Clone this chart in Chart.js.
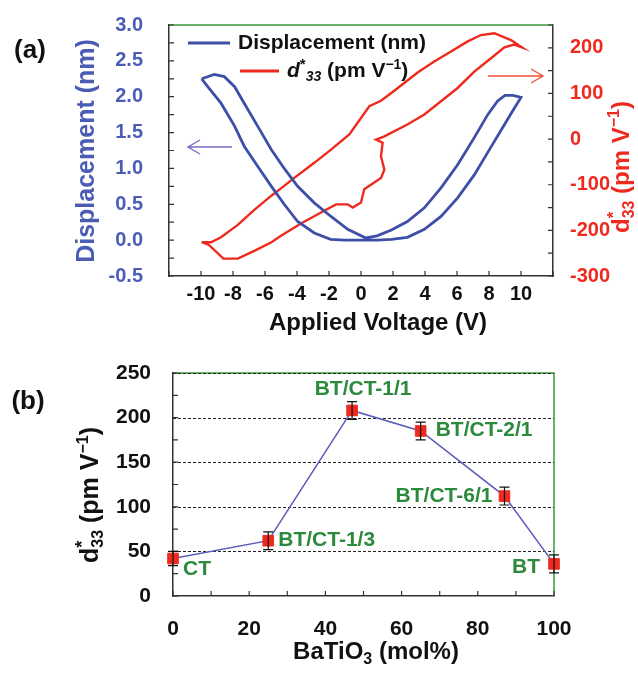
<!DOCTYPE html>
<html>
<head>
<meta charset="utf-8">
<script src="https://cdn.jsdelivr.net/npm/chart.js@4.4.1/dist/chart.umd.min.js"></script>
<style>
  body { margin: 0; background: #fff; width: 638px; height: 673px; overflow: hidden; position: relative; }
  canvas { position: absolute; left: 0; }
  #chartA { top: 0; }
  #chartB { top: 345px; }
</style>
</head>
<body>
<canvas id="chartA" width="638" height="345"></canvas>
<canvas id="chartB" width="638" height="328"></canvas>
<script>
const FONT = "'Liberation Sans', Arial, sans-serif";
const BLUE = "#3e4fa8";
const BLUE_TXT = "#4b5cb4";
const RED = "#ee2a1e";
const GREEN = "#2b8a3c";

// (a) displacement loop, in sweep order
const dispVolt = [-9.96, -9.58, -8.75, -7.9, -7.3, -6.46, -5.6, -4.8, -3.96, -2.92, -1.9, -1.0, 0.2, 1.0, 1.9, 2.9, 3.96, 5.0, 6.04, 7.08, 8.1, 8.96, 9.58, 10.0,
  9.5, 9.0, 8.54, 7.92, 7.08, 6.04, 5.0, 3.96, 2.9, 1.9, 1.0, 0.3, -0.83, -1.875, -2.92, -3.96, -4.8, -5.6, -6.46, -7.3, -7.9, -8.54, -9.17, -9.96];
const dispNm = [2.25, 2.14, 1.91, 1.59, 1.31, 1.03, 0.75, 0.50, 0.26, 0.10, 0.01, 0, 0, 0, 0.01, 0.04, 0.15, 0.33, 0.59, 0.91, 1.29, 1.61, 1.84, 1.99,
  2.02, 2.02, 1.94, 1.75, 1.43, 1.05, 0.73, 0.45, 0.26, 0.14, 0.06, 0.03, 0.15, 0.33, 0.52, 0.75, 1.0, 1.26, 1.59, 1.91, 2.14, 2.28, 2.31, 2.25];

// (a) d*33 loop, in sweep order
const d33Volt = [-9.96, -9.5, -8.6, -7.7, -6.67, -5.6, -5, -3.75, -2.5, -1.56, -0.83, -0.52, 0, 0.2, 1.25, 1.46, 1.25, 1.35, 0.94, 1.46, 2.9, 3.96, 5, 6.04, 7.08, 8.125, 8.96, 9.58, 10.05,
  9.375, 8.33, 7.5, 6.67, 5.625, 4.58, 3.54, 2.08, 1.25, 0.52, -0.73, -1.875, -2.92, -4.17, -5, -5.6, -6.67, -7.7, -8.75, -9.375, -9.96];
const d33Val = [-226, -232, -262, -262, -245, -226, -212, -185, -161, -143, -143, -150, -139, -110, -85, -67, -38, -8, -1, 6, 32, 54, 83, 112, 148, 177, 201, 207, 201,
  217, 232, 228, 214, 192, 170, 146, 106, 84, 72, 10, -23, -52, -85, -108, -124, -155, -188, -215, -226, -226];

// (b) d*33 vs composition
const batio3 = [0, 25, 47, 65, 87, 100];
const d33b = [42, 62, 208, 185, 112, 36];
const d33bErr = [8, 10, 10, 10, 10, 10];
const sampleNames = ["CT", "BT/CT-1/3", "BT/CT-1/1", "BT/CT-2/1", "BT/CT-6/1", "BT"];
// label placement next to each point: dx, dy, align
const nameOffsets = [[10, 11, "left"], [10, 0, "left"], [11, -21, "center"], [15, -1, "left"], [-12, 0, "right"], [-14, 3, "right"]];

const isMult = (v, step) => Math.abs(v / step - Math.round(v / step)) < 1e-6;

function richText(ctx, parts, x, y, size, color, align, angle) {
  ctx.save();
  ctx.translate(x, y);
  if (angle) ctx.rotate(angle);
  ctx.fillStyle = color;
  ctx.textBaseline = "middle";
  ctx.textAlign = "left";
  const fontOf = p => (p.it ? "italic " : "") + "bold " + Math.round(size * (p.sc || 1)) + "px " + FONT;
  let w = 0;
  parts.forEach(p => { ctx.font = fontOf(p); if (!p.stay) w += ctx.measureText(p.t).width; });
  let cx = align === "center" ? -w / 2 : align === "right" ? -w : 0;
  parts.forEach(p => {
    ctx.font = fontOf(p);
    ctx.fillText(p.t, cx, (p.dy || 0) * size);
    if (!p.stay) cx += ctx.measureText(p.t).width;
  });
  ctx.restore();
}

const d33Parts = (italic) => [
  { t: "d", it: italic },
  { t: "*", sc: 0.7, dy: -0.3, stay: !italic },
  { t: "33", it: italic, sc: 0.65, dy: 0.3 },
  { t: " (pm V" },
  { t: "\u22121", sc: 0.65, dy: -0.3 },
  { t: ")" }
];

function tickMarks(ctx, scale, side, len) {
  ctx.save();
  ctx.strokeStyle = "#333";
  ctx.lineWidth = 1.2;
  ctx.beginPath();
  scale.ticks.forEach(t => {
    const p = scale.getPixelForValue(t.value);
    if (side === "left") { ctx.moveTo(scale.right, p); ctx.lineTo(scale.right + len, p); }
    if (side === "right") { ctx.moveTo(scale.left, p); ctx.lineTo(scale.left - len, p); }
    if (side === "bottom") { ctx.moveTo(p, scale.top); ctx.lineTo(p, scale.top - len); }
  });
  ctx.stroke();
  ctx.restore();
}

function arrow(ctx, x1, x2, y, color, dir) {
  ctx.save();
  ctx.strokeStyle = color;
  ctx.lineWidth = 1.4;
  ctx.beginPath();
  ctx.moveTo(x1, y); ctx.lineTo(x2, y);
  const tip = dir < 0 ? x1 : x2;
  ctx.moveTo(tip - dir * 12, y - 7); ctx.lineTo(tip, y); ctx.lineTo(tip - dir * 12, y + 7);
  ctx.stroke();
  ctx.restore();
}

const tickFont = size => ({ family: FONT, size: size, weight: "bold" });
const noGrid = { display: false, drawTicks: false, tickLength: 0 };

// ---------- chart (a) ----------
const framePluginA = {
  id: "frameA",
  beforeDatasetsDraw(chart) {
    const ctx = chart.ctx, a = chart.chartArea;
    ctx.save();
    ctx.strokeStyle = "#3a9a3a";
    ctx.lineWidth = 1.5;
    ctx.beginPath(); ctx.moveTo(a.left, a.top); ctx.lineTo(a.right, a.top); ctx.stroke();
    ctx.restore();
    tickMarks(ctx, chart.scales.y, "left", 5);
    tickMarks(ctx, chart.scales.y1, "right", 5);
    tickMarks(ctx, chart.scales.x, "bottom", 5);
  },
  afterDatasetsDraw(chart) {
    const ctx = chart.ctx;
    // legend
    ctx.save();
    ctx.lineWidth = 3;
    ctx.strokeStyle = BLUE;
    ctx.beginPath(); ctx.moveTo(188, 43); ctx.lineTo(230, 43); ctx.stroke();
    ctx.strokeStyle = RED;
    ctx.beginPath(); ctx.moveTo(240, 71); ctx.lineTo(279, 71); ctx.stroke();
    ctx.restore();
    richText(ctx, [{ t: "Displacement (nm)" }], 238, 43, 21, "#111", "left");
    richText(ctx, d33Parts(true), 287, 71, 21, "#111", "left");
    arrow(ctx, 188, 232, 147, "#7a6cc4", -1);
    arrow(ctx, 488, 543, 76, "#f0503c", 1);
    // titles
    richText(ctx, [{ t: "Displacement (nm)" }], 87, 151, 25, BLUE_TXT, "center", -Math.PI / 2);
    richText(ctx, d33Parts(false), 622, 167, 24, RED, "center", -Math.PI / 2);
    richText(ctx, [{ t: "Applied Voltage (V)" }], 378, 323, 24, "#111", "center");
    richText(ctx, [{ t: "(a)" }], 30, 51, 26, "#111", "center");
  }
};

new Chart(document.getElementById("chartA"), {
  type: "scatter",
  data: {
    datasets: [
      {
        label: "Displacement (nm)",
        data: dispVolt.map((v, i) => ({ x: v, y: dispNm[i] })),
        yAxisID: "y",
        showLine: true,
        borderColor: BLUE,
        borderWidth: 2.8,
        pointRadius: 0,
        tension: 0
      },
      {
        label: "d*33 (pm V-1)",
        data: d33Volt.map((v, i) => ({ x: v, y: d33Val[i] })),
        yAxisID: "y1",
        showLine: true,
        borderColor: RED,
        borderWidth: 2.4,
        pointRadius: 0,
        tension: 0
      }
    ]
  },
  options: {
    responsive: false,
    animation: false,
    layout: { padding: { top: 25, left: 0, right: 0, bottom: 0 } },
    plugins: { legend: { display: false }, tooltip: { enabled: false } },
    scales: {
      x: {
        type: "linear", min: -12, max: 12,
        grid: noGrid,
        border: { color: "#333", width: 1.5 },
        ticks: {
          stepSize: 2, padding: 6, autoSkip: false, maxRotation: 0, color: "#111", font: tickFont(20),
          callback: v => (Math.abs(v) > 10 ? "" : String(v))
        },
        afterFit: s => { s.height = 69; s.paddingLeft = 0; s.paddingRight = 0; }
      },
      y: {
        position: "left", min: -0.5, max: 3,
        grid: noGrid,
        border: { color: "#333", width: 1.5 },
        ticks: {
          stepSize: 0.25, padding: 26, autoSkip: false, color: BLUE_TXT, font: tickFont(20),
          callback: v => (isMult(v, 0.5) ? v.toFixed(1) : "")
        },
        afterFit: s => { s.width = 169; s.paddingTop = 0; s.paddingBottom = 0; }
      },
      y1: {
        position: "right", min: -300, max: 250,
        grid: noGrid,
        border: { color: "#333", width: 1.5 },
        ticks: {
          stepSize: 50, padding: 17, autoSkip: false, color: RED, font: tickFont(20),
          callback: v => (isMult(v, 100) ? String(v) : "")
        },
        afterFit: s => { s.width = 85; s.paddingTop = 0; s.paddingBottom = 0; }
      }
    }
  },
  plugins: [framePluginA]
});

// ---------- chart (b) ----------
const framePluginB = {
  id: "frameB",
  beforeDatasetsDraw(chart) {
    const ctx = chart.ctx, a = chart.chartArea, ys = chart.scales.y;
    ctx.save();
    ctx.strokeStyle = "#3a9a3a";
    ctx.lineWidth = 1.5;
    ctx.beginPath();
    ctx.moveTo(a.left, a.top); ctx.lineTo(a.right, a.top); ctx.lineTo(a.right, a.bottom);
    ctx.stroke();
    ctx.strokeStyle = "#222";
    ctx.lineWidth = 1.1;
    ctx.setLineDash([3, 2]);
    ctx.beginPath();
    ys.ticks.forEach(t => {
      if (t.value > 0 && isMult(t.value, 50)) {
        const p = Math.round(ys.getPixelForValue(t.value)) + 0.5;
        ctx.moveTo(a.left, p); ctx.lineTo(a.right, p);
      }
    });
    ctx.stroke();
    ctx.restore();
    tickMarks(ctx, ys, "left", 5);
    tickMarks(ctx, chart.scales.x, "bottom", 5);
  },
  afterDatasetsDraw(chart) {
    const ctx = chart.ctx, xs = chart.scales.x, ys = chart.scales.y;
    // error bars
    ctx.save();
    ctx.strokeStyle = "#111";
    ctx.lineWidth = 1.2;
    ctx.beginPath();
    batio3.forEach((m, i) => {
      const px = xs.getPixelForValue(m);
      const top = ys.getPixelForValue(d33b[i] + d33bErr[i]);
      const bot = ys.getPixelForValue(d33b[i] - d33bErr[i]);
      ctx.moveTo(px, top); ctx.lineTo(px, bot);
      ctx.moveTo(px - 5, top); ctx.lineTo(px + 5, top);
      ctx.moveTo(px - 5, bot); ctx.lineTo(px + 5, bot);
    });
    ctx.stroke();
    ctx.restore();
    // sample names
    sampleNames.forEach((name, i) => {
      const o = nameOffsets[i];
      richText(ctx, [{ t: name }], xs.getPixelForValue(batio3[i]) + o[0], ys.getPixelForValue(d33b[i]) + o[1], 21, GREEN, o[2]);
    });
    richText(ctx, d33Parts(false), 91, 150, 25, "#111", "center", -Math.PI / 2);
    richText(ctx, [{ t: "BaTiO" }, { t: "3", sc: 0.65, dy: 0.3 }, { t: " (mol%)" }], 376, 307, 24, "#111", "center");
    richText(ctx, [{ t: "(b)" }], 28, 57, 26, "#111", "center");
  }
};

new Chart(document.getElementById("chartB"), {
  type: "scatter",
  data: {
    datasets: [{
      label: "d*33",
      data: batio3.map((m, i) => ({ x: m, y: d33b[i] })),
      showLine: true,
      borderColor: "#5a5abb",
      borderWidth: 1.5,
      pointStyle: "rect",
      pointRadius: 7.5,
      pointBackgroundColor: RED,
      pointBorderColor: RED,
      pointBorderWidth: 1,
      clip: false,
      tension: 0
    }]
  },
  options: {
    responsive: false,
    animation: false,
    layout: { padding: { top: 28, left: 0, right: 84, bottom: 0 } },
    plugins: { legend: { display: false }, tooltip: { enabled: false } },
    scales: {
      x: {
        type: "linear", min: 0, max: 100,
        grid: noGrid,
        border: { color: "#333", width: 1.5 },
        ticks: {
          stepSize: 10, padding: 21, autoSkip: false, maxRotation: 0, color: "#111", font: tickFont(21),
          callback: v => (isMult(v, 20) ? String(v) : "")
        },
        afterFit: s => { s.height = 77; s.paddingLeft = 0; s.paddingRight = 0; }
      },
      y: {
        min: 0, max: 250,
        grid: noGrid,
        border: { color: "#333", width: 1.5 },
        ticks: {
          stepSize: 25, padding: 22, autoSkip: false, color: "#111", font: tickFont(21),
          callback: v => (isMult(v, 50) ? String(v) : "")
        },
        afterFit: s => { s.width = 173; s.paddingTop = 0; s.paddingBottom = 0; }
      }
    }
  },
  plugins: [framePluginB]
});
</script>
</body>
</html>
